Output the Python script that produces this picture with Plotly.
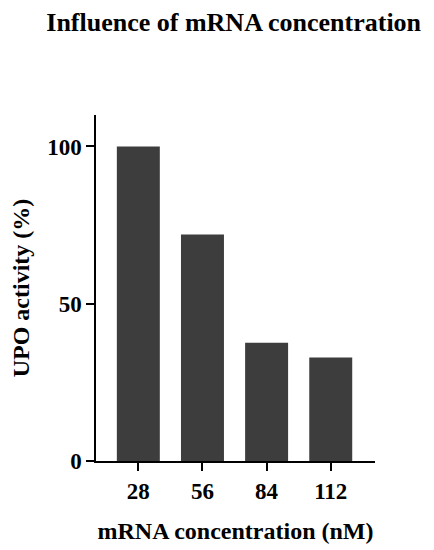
import plotly.graph_objects as go

# mRNA concentration (nM) and relative UPO activity (%)
concentrations = ["28", "56", "84", "112"]
activity = [100, 72, 37.6, 32.9]
y_ticks = [0, 50, 100]

FONT = "Liberation Serif"

fig = go.Figure()

fig.add_trace(
    go.Bar(x=concentrations, y=activity, width=0.67,
           marker=dict(color="#3d3d3d", line=dict(width=0)))
)

# the page body adds an 8px offset, so margins are shifted by that much
fig.update_layout(
    width=434,
    height=550,
    margin=dict(l=88, r=67, t=107, b=97),
    paper_bgcolor="white",
    plot_bgcolor="white",
    showlegend=False,
    font=dict(family=FONT, size=20, color="black"),
    title=dict(text="<b>Influence of mRNA concentration</b>",
               x=0.52, xref="container", xanchor="center",
               y=0.975, yref="container", yanchor="middle",
               font=dict(family=FONT, size=26, color="black")),
)

fig.update_xaxes(
    type="category",
    range=[-0.66, 3.69],
    automargin=False,
    showline=True, linecolor="black", linewidth=1.5,
    ticks="outside", ticklen=8, tickwidth=1.5, tickcolor="black",
    tickfont=dict(family=FONT, size=23, color="black", weight="bold"),
    ticklabelstandoff=1,
    showgrid=False, zeroline=False,
    title=dict(text="<b>mRNA concentration (nM)</b>", standoff=19),
)
fig.update_yaxes(
    range=[0, 110],
    tickvals=y_ticks,
    automargin=False,
    showline=True, linecolor="black", linewidth=1.5,
    ticks="outside", ticklen=8, tickwidth=1.5, tickcolor="black",
    tickfont=dict(family=FONT, size=23, color="black", weight="bold"),
    showgrid=False, zeroline=False,
    title=dict(text="<b>UPO activity (%)</b>", standoff=19),
)

fig.write_html("out.html")
